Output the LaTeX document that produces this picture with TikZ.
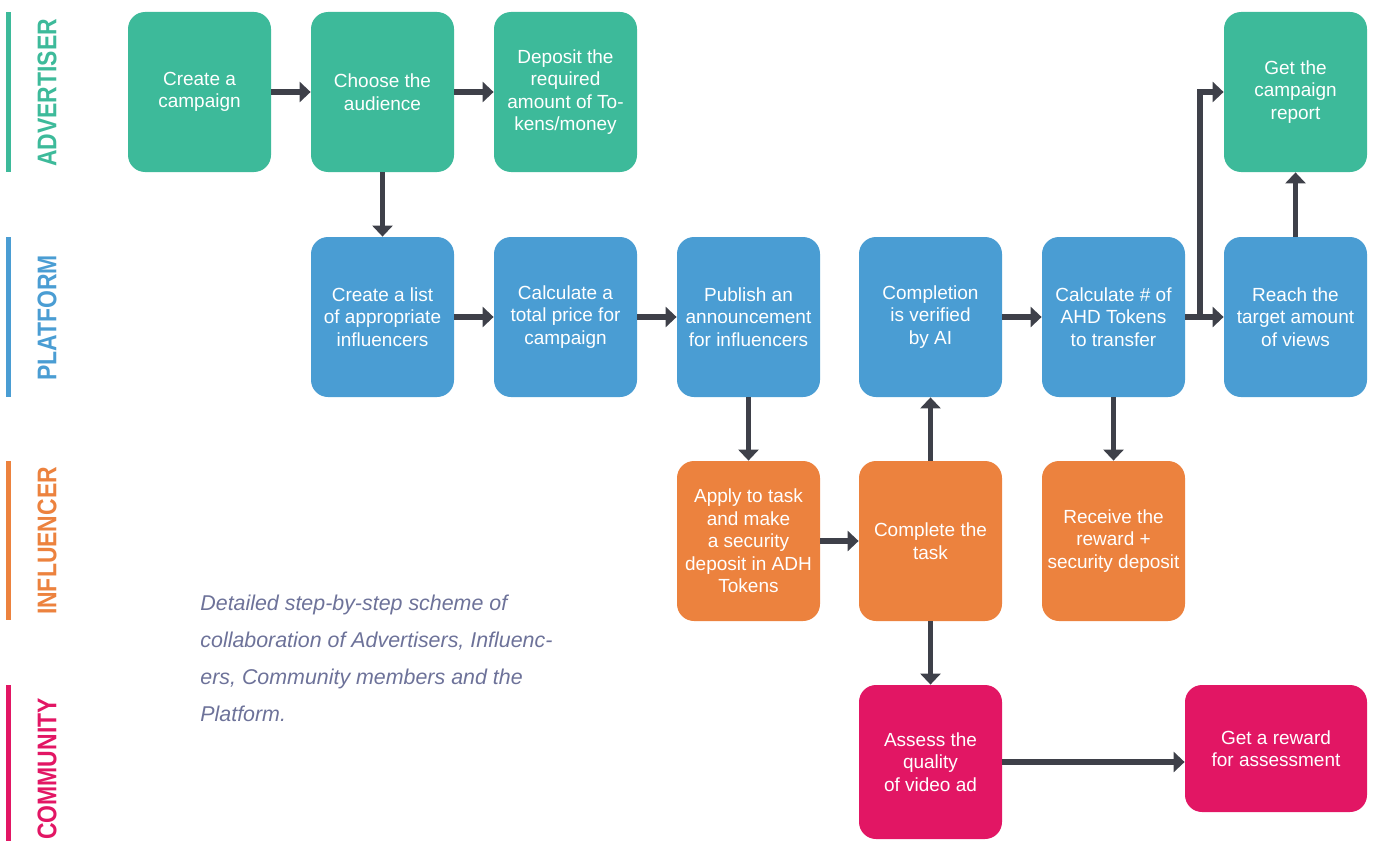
\documentclass[tikz,border=0pt]{standalone}
\usepackage{fontspec}
\setmainfont{Liberation Sans}
\newfontfamily\carrilfont{Liberation Sans}[FakeStretch=0.85]
\usepackage{tikz}
\usetikzlibrary{arrows.meta}

\definecolor{verde}{HTML}{3DBA9A}
\definecolor{azul}{HTML}{4A9DD3}
\definecolor{naranja}{HTML}{EC823E}
\definecolor{rosa}{HTML}{E21664}
\definecolor{oscuro}{HTML}{3E4049}
\definecolor{nota}{HTML}{6D7299}

\begin{document}
\begin{tikzpicture}[x=0.5pt, y=-0.5pt,
    caja/.style={rounded corners=8.5pt, minimum width=71.5pt, minimum height=80pt,
      inner sep=0pt, align=center, text=white,
      font=\fontsize{9.5}{11.25}\selectfont},
    carril/.style={rotate=90, inner sep=0pt, font=\carrilfont\bfseries\fontsize{13.5}{13.5}\selectfont},
    flecha/.style={oscuro, line width=2.75pt, -{Triangle[width=10pt,length=5.5pt]}}]
            \clip (0,0) rectangle (1375,840);

            % Carriles
            \fill[verde] (6,12) rectangle (11,172);
            \fill[azul] (6,237) rectangle (11,397);
            \fill[naranja] (6,461) rectangle (11,620);
            \fill[rosa] (6,685) rectangle (11,850);
            \node[carril, text=verde] (anunciante) at (47,93) {ADVERTISER};
            \node[carril, text=azul] (plataforma) at (47,318) {PLATFORM};
            \node[carril, text=naranja] (influencer) at (47,541) {INFLUENCER};
            \node[carril, text=rosa] (comunidad) at (47,769) {COMMUNITY};

            % Nodos
            \node[caja, fill=verde] (crear) at (199.5,92) {Create a\\campaign};
            \node[caja, fill=verde] (elegir) at (382.5,92) {Choose the\\audience};
            \node[caja, fill=verde] (depositar) at (565.5,92) {Deposit the\\required\\amount of To-\\kens/money};
            \node[caja, fill=verde] (informe) at (1295.5,92) {Get the\\campaign\\report};

            \node[caja, fill=azul] (lista) at (382.5,317) {Create a list\\of appropriate\\influencers};
            \node[caja, fill=azul] (precio) at (565.5,317) {Calculate a\\total price for\\campaign};
            \node[caja, fill=azul] (publicar) at (748.5,317) {Publish an\\announcement\\for influencers};
            \node[caja, fill=azul] (verificar) at (930.5,317) {Completion\\is verified\\by AI};
            \node[caja, fill=azul] (calcular) at (1113.5,317) {Calculate \# of\\AHD Tokens\\to transfer};
            \node[caja, fill=azul] (alcanzar) at (1295.5,317) {Reach the\\target amount\\of views};

            \node[caja, fill=naranja] (aplicar) at (748.5,541) {Apply to task\\and make\\a security\\deposit in ADH\\Tokens};
            \node[caja, fill=naranja] (completar) at (930.5,541) {Complete the\\task};
            \node[caja, fill=naranja] (recibir) at (1113.5,541) {Receive the\\reward +\\security deposit};

            \node[caja, fill=rosa, minimum height=77pt] (evaluar) at (930.5,762) {Assess the\\quality\\of video ad};
            \node[caja, fill=rosa, minimum width=91pt, minimum height=63.5pt] (recompensa) at (1276,748.5) {Get a reward\\for assessment};

            \node[anchor=north west, inner sep=0pt, align=left, text=nota,
              font=\itshape\fontsize{10.7}{18.5}\selectfont] (leyenda) at (200,595)
              {Detailed step-by-step scheme of\\collaboration of Advertisers, Influenc-\\ers, Community members and the\\Platform.};

            % Flechas
            \coordinate (rama) at (1200,317);
            \draw[flecha] (crear) -- (elegir);
            \draw[flecha] (elegir) -- (depositar);
            \draw[flecha] (elegir) -- (lista);
            \draw[flecha] (lista) -- (precio);
            \draw[flecha] (precio) -- (publicar);
            \draw[flecha] (publicar) -- (aplicar);
            \draw[flecha] (aplicar) -- (completar);
            \draw[flecha] (completar) -- (verificar);
            \draw[flecha] (completar) -- (evaluar);
            \draw[flecha] (verificar) -- (calcular);
            \draw[flecha] (calcular) -- (recibir);
            \draw[flecha] (calcular) -- (alcanzar);
            \draw[flecha] (rama) |- (informe.west);
            \draw[flecha] (alcanzar) -- (informe);
            \draw[flecha] (evaluar.east) -- (evaluar.east -| recompensa.west);
          \end{tikzpicture}
\end{document}
